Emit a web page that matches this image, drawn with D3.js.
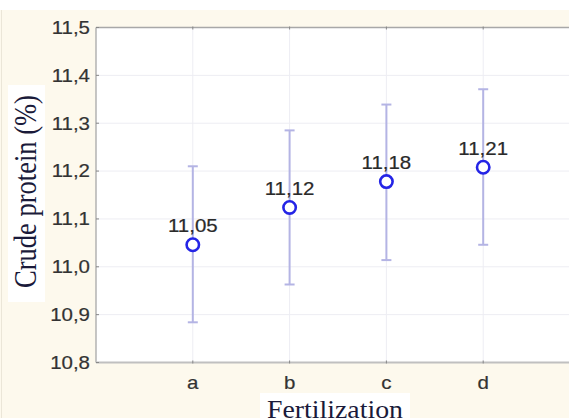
<!DOCTYPE html>
<html><head><meta charset="utf-8">
<script src="https://cdn.jsdelivr.net/npm/d3@7"></script>
<style>html,body{margin:0;padding:0;background:#fff;}svg{display:block;}</style>
</head><body>
<script>
const categories = ["a", "b", "c", "d"];
const means = [11.046, 11.124, 11.178, 11.208];
const upper = [11.210, 11.285, 11.339, 11.371];
const lower = [10.884, 10.963, 11.014, 11.046];
const yTicks = [10.8, 10.9, 11.0, 11.1, 11.2, 11.3, 11.4, 11.5];
const yTitle = "Crude protein (%)";
const xTitle = "Fertilization";

const W = 569, H = 418;
const plot = {left: 96, top: 27.5, bottom: 362.5, right: 580};
const svg = d3.select("body").append("svg").attr("width", W).attr("height", H);

svg.append("rect").attr("width", W).attr("height", H).attr("fill", "#fff");
svg.append("rect").attr("x", 0).attr("y", 10).attr("width", W).attr("height", H - 10).attr("fill", "#fdf9ed");
svg.append("line").attr("x1", 1.5).attr("x2", 1.5).attr("y1", 10).attr("y2", H).attr("stroke", "#ebe6d8");

const x = d3.scaleLinear().domain([0, categories.length + 1]).range([plot.left, plot.right]);
const y = d3.scaleLinear().domain([10.8, 11.5]).range([plot.bottom, plot.top]);
const fmt = v => d3.format(".1f")(v).replace(".", ",");
const fmt2 = v => d3.format(".2f")(v).replace(".", ",");
const sx = 1.17;

// plot area
svg.append("rect").attr("x", plot.left).attr("y", plot.top).attr("width", W - plot.left).attr("height", plot.bottom - plot.top).attr("fill", "#fff");

// grid
svg.append("g").selectAll("line").data(yTicks.slice(1, -1)).join("line")
  .attr("x1", plot.left).attr("x2", W).attr("y1", d => y(d)).attr("y2", d => y(d))
  .attr("stroke", "#ededf3").attr("stroke-width", 1);
svg.append("g").selectAll("line").data(categories).join("line")
  .attr("x1", (d, i) => x(i + 1)).attr("x2", (d, i) => x(i + 1))
  .attr("y1", plot.top).attr("y2", plot.bottom)
  .attr("stroke", "#ededf3").attr("stroke-width", 1);

// borders
svg.append("line").attr("x1", plot.left).attr("x2", W).attr("y1", plot.top).attr("y2", plot.top).attr("stroke", "#a8a8a8").attr("stroke-width", 1.3);
svg.append("line").attr("x1", plot.left).attr("x2", plot.left).attr("y1", plot.top).attr("y2", plot.bottom).attr("stroke", "#a8a8a8").attr("stroke-width", 1.3);
svg.append("line").attr("x1", plot.left).attr("x2", W).attr("y1", plot.bottom).attr("y2", plot.bottom).attr("stroke", "#c0c0c0").attr("stroke-width", 2.2);

// small ticks
svg.append("g").selectAll("line").data(yTicks).join("line")
  .attr("x1", plot.left).attr("x2", plot.left + 3).attr("y1", d => y(d)).attr("y2", d => y(d))
  .attr("stroke", "#888").attr("stroke-width", 1);
svg.append("g").selectAll("line").data(categories).join("line")
  .attr("x1", (d, i) => x(i + 1)).attr("x2", (d, i) => x(i + 1))
  .attr("y1", plot.bottom - 2).attr("y2", plot.bottom + 1)
  .attr("stroke", "#888").attr("stroke-width", 1);
svg.append("g").selectAll("line").data(categories).join("line")
  .attr("x1", (d, i) => x(i + 1)).attr("x2", (d, i) => x(i + 1))
  .attr("y1", plot.top - 1).attr("y2", plot.top + 2)
  .attr("stroke", "#888").attr("stroke-width", 1);

const sans = "'Liberation Sans', Arial, sans-serif";
// y tick labels
svg.append("g").selectAll("text").data(yTicks).join("text")
  .attr("transform", d => `translate(90,${y(d) + 6.3}) scale(${sx},1)`)
  .attr("text-anchor", "end")
  .attr("font-family", sans).attr("font-size", 17.5)
  .attr("fill", "#333").attr("stroke", "#333").attr("stroke-width", 0.2).text(fmt);

// x tick labels
svg.append("g").selectAll("text").data(categories).join("text")
  .attr("transform", (d, i) => `translate(${x(i + 1)},389) scale(${sx},1)`)
  .attr("text-anchor", "middle")
  .attr("font-family", sans).attr("font-size", 17.5)
  .attr("fill", "#333").attr("stroke", "#333").attr("stroke-width", 0.2).text(d => d);

// error bars
const eb = svg.append("g").attr("stroke", "#b4b4e4").attr("stroke-width", 2);
categories.forEach((c, i) => {
  const cx = x(i + 1);
  eb.append("line").attr("x1", cx).attr("x2", cx).attr("y1", y(upper[i])).attr("y2", y(lower[i]));
  eb.append("line").attr("x1", cx - 5).attr("x2", cx + 5).attr("y1", y(upper[i])).attr("y2", y(upper[i]));
  eb.append("line").attr("x1", cx - 5).attr("x2", cx + 5).attr("y1", y(lower[i])).attr("y2", y(lower[i]));
});

// points
svg.append("g").selectAll("circle").data(means).join("circle")
  .attr("cx", (d, i) => x(i + 1)).attr("cy", d => y(d)).attr("r", 6.2)
  .attr("fill", "#fff").attr("stroke", "#2424e6").attr("stroke-width", 2.6);

// value labels
svg.append("g").selectAll("text").data(means).join("text")
  .attr("transform", (d, i) => `translate(${x(i + 1)},${y(d) - 12.5}) scale(${sx},1)`)
  .attr("text-anchor", "middle")
  .attr("font-family", sans).attr("font-size", 17.5)
  .attr("fill", "#2a2a2a").attr("stroke", "#2a2a2a").attr("stroke-width", 0.2).text(fmt2);

// y title
svg.append("rect").attr("x", 8).attr("y", 85).attr("width", 37).attr("height", 217).attr("fill", "#fff");
svg.append("text")
  .attr("transform", `translate(36,191.5) scale(1.2,1) rotate(-90)`)
  .attr("text-anchor", "middle")
  .attr("font-family", "'Liberation Serif', 'Times New Roman', serif").attr("font-size", 26.5)
  .attr("fill", "#1a1a3a").text(yTitle);

// x title
svg.append("rect").attr("x", 260).attr("y", 393).attr("width", 150).attr("height", 25).attr("fill", "#fff");
svg.append("text")
  .attr("transform", `translate(335,417.5) scale(1.07,1)`)
  .attr("text-anchor", "middle")
  .attr("font-family", "'Liberation Serif', 'Times New Roman', serif").attr("font-size", 26)
  .attr("fill", "#1a1a3a").text(xTitle);
</script>
</body></html>
